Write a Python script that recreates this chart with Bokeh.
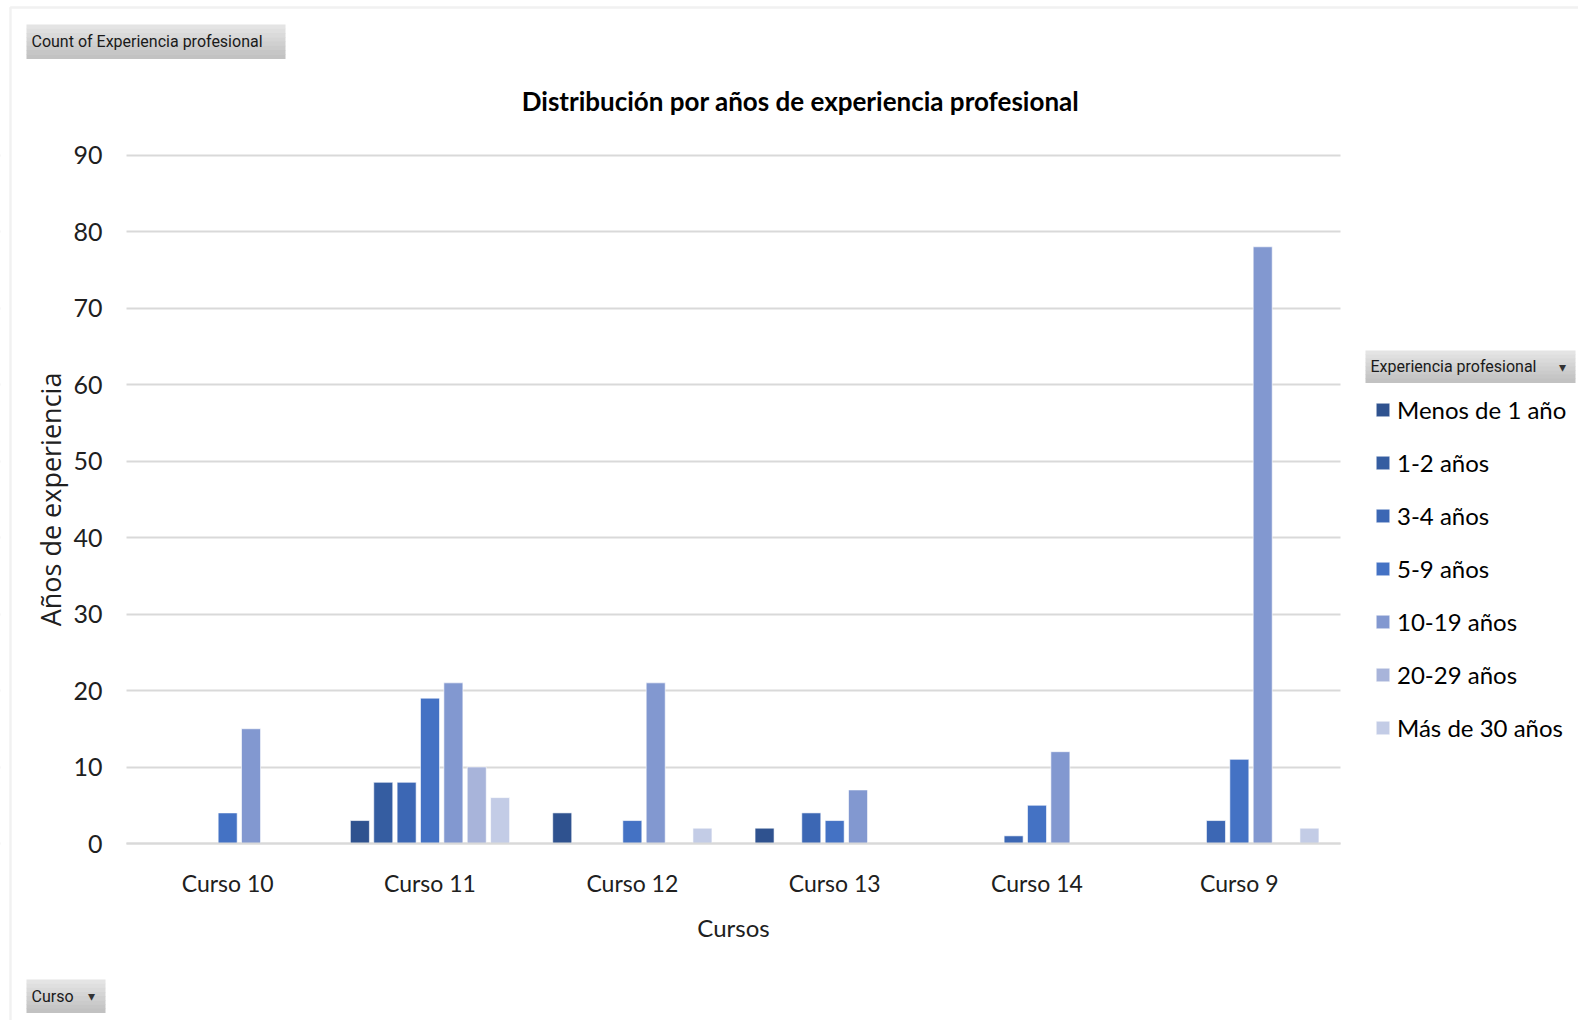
import numpy as np
from bokeh.plotting import figure
from bokeh.models import (ColumnDataSource, Range1d, Label, BoxAnnotation, Legend,
                          LegendItem, FixedTicker)
from bokeh.embed import file_html
from bokeh.resources import INLINE

# ---------------- data ----------------
cursos = ["Curso 10", "Curso 11", "Curso 12", "Curso 13", "Curso 14", "Curso 9"]
series = ["Menos de 1 año", "1-2 años", "3-4 años", "5-9 años", "10-19 años", "20-29 años", "Más de 30 años"]
menos_1 = [0, 3, 4, 2, 0, 0]
anos_1_2 = [0, 8, 0, 0, 0, 0]
anos_3_4 = [0, 8, 0, 4, 1, 3]
anos_5_9 = [4, 19, 3, 3, 5, 11]
anos_10_19 = [15, 21, 21, 7, 12, 78]
anos_20_29 = [0, 10, 0, 0, 0, 0]
mas_30 = [0, 6, 2, 0, 0, 2]
values = [menos_1, anos_1_2, anos_3_4, anos_5_9, anos_10_19, anos_20_29, mas_30]
colors = ["#2F528F", "#355DA1", "#3C67B4", "#4472C4", "#8298D0", "#A8B4DA", "#C3CCE6"]

y_ticks = list(range(0, 100, 10))
y_max = 90

# ---------------- layout (canvas pixels) ----------------
W, H = 1578, 1020
FL, FR, FT, FB = 126, 1340, 154.5, 843     # plotting area of the bars
FONT = "Lato"
BTN_FONT = "Roboto"
ncat = len(cursos)
xpx = (FR - FL) / ncat            # pixels per category
ypx = (FB - FT) / y_max           # pixels per unit

# the frame covers the whole canvas; axes are pinned with fixed_location
p = figure(x_range=Range1d(-FL / xpx, (W - FL) / xpx),
           y_range=Range1d(-(H - FB) / ypx, y_max + FT / ypx),
           width=W, height=H, output_backend="svg", toolbar_location=None, min_border=0)
p.outline_line_color = None
p.background_fill_color = "white"
p.border_fill_color = "white"

def sx(X):  # canvas x -> screen units
    return X

def sy(Y):  # canvas y (from top) -> screen units (from bottom)
    return H - Y

# gridlines
p.xgrid.grid_line_color = None
p.ygrid.grid_line_color = "#D9D9D9"
p.ygrid.grid_line_width = 2
# keep gridlines to the category area
p.add_layout(BoxAnnotation(right=0, fill_color="white", fill_alpha=1, line_color=None, level="underlay"))
p.add_layout(BoxAnnotation(left=ncat, fill_color="white", fill_alpha=1, line_color=None, level="underlay"))

centers = np.arange(ncat) + 0.5
slot = 0.1155
renderers = []
for i, (name, vals, col) in enumerate(zip(series, values, colors)):
    vals = np.array(vals)
    keep = vals > 0
    src = ColumnDataSource(dict(x=centers[keep] + (i - 3) * slot, count=vals[keep]))
    r = p.vbar(x="x", top="count", width=0.094, source=src,
               fill_color=col, line_color="#FFFFFF", line_width=1, line_alpha=0.6)
    renderers.append(r)

# y axis
p.yaxis.fixed_location = 0
p.yaxis.bounds = (0, y_max)
p.yaxis.ticker = y_ticks
p.yaxis.axis_line_color = None
p.yaxis.major_tick_line_color = None
p.yaxis.minor_tick_line_color = None
p.yaxis.major_label_standoff = 18
p.yaxis.major_label_text_font = FONT
p.yaxis.major_label_text_font_size = "25px"
p.yaxis.major_label_text_color = "#202020"
p.yaxis.axis_label = "Años de experiencia"
p.yaxis.axis_label_text_font = "Open Sans"
p.yaxis.axis_label_text_font_size = "27px"
p.yaxis.axis_label_text_font_style = "normal"
p.yaxis.axis_label_text_color = "#202020"
p.yaxis.axis_label_standoff = 1

# x axis
p.xaxis.fixed_location = 0
p.xaxis.bounds = (0, ncat)
p.xaxis.ticker = FixedTicker(ticks=list(centers))
p.xaxis.major_label_overrides = {float(c): n for c, n in zip(centers, cursos)}
p.xaxis.axis_line_color = "#D9D9D9"
p.xaxis.axis_line_width = 2
p.xaxis.major_tick_line_color = None
p.xaxis.minor_tick_line_color = None
p.xaxis.major_label_standoff = 19
p.xaxis.major_label_text_font = FONT
p.xaxis.major_label_text_font_size = "23px"
p.xaxis.major_label_text_color = "#202020"
p.xaxis.axis_label = "Cursos"
p.xaxis.axis_label_text_font = FONT
p.xaxis.axis_label_text_font_size = "24px"
p.xaxis.axis_label_text_font_style = "normal"
p.xaxis.axis_label_text_color = "#202020"
p.xaxis.axis_label_standoff = 13

# title
p.add_layout(Label(x=sx(800), y=sy(100), x_units="screen", y_units="screen",
                   text="Distribución por años de experiencia profesional",
                   text_font=FONT, text_font_style="bold", text_font_size="26px",
                   text_align="center", text_baseline="middle", text_color="#000000"))

# legend
items = [LegendItem(label=s, renderers=[r]) for s, r in zip(series, renderers)]
leg = Legend(items=items, location=(1374, 101 + (H - FB)), padding=0, margin=0,
             border_line_color=None, background_fill_alpha=0,
             glyph_width=17, glyph_height=17, label_height=30, spacing=23,
             label_standoff=6, label_text_font=FONT, label_text_font_size="24px",
             label_text_color="#000000")
p.add_layout(leg, "center")

# outer chart border
p.add_layout(BoxAnnotation(left=10, right=W + 20, top=sy(7), bottom=-20,
                           left_units="screen", right_units="screen",
                           top_units="screen", bottom_units="screen",
                           fill_alpha=0, line_color="#D0D0D0", line_width=2.5))

# gray pivot buttons (gradient boxes)
def button(x0, x1, y0, y1, text, arrow_x=None):
    n = 8
    h = (y1 - y0) / n
    for k in range(n):
        g = int(0xE4 - (0xE4 - 0xC2) * k / (n - 1))
        c = "#%02X%02X%02X" % (g, g, g)
        p.add_layout(BoxAnnotation(left=x0, right=x1, top=sy(y0 + k * h), bottom=sy(y0 + (k + 1) * h + 0.5),
                                   left_units="screen", right_units="screen",
                                   top_units="screen", bottom_units="screen",
                                   fill_color=c, fill_alpha=1, line_color=None))
    p.add_layout(Label(x=sx(x0 + 5), y=sy((y0 + y1) / 2), x_units="screen", y_units="screen",
                       text=text, text_font=BTN_FONT, text_font_size="16px",
                       text_baseline="middle", text_align="left", text_color="#1A1A1A"))
    if arrow_x is not None:
        p.add_layout(Label(x=sx(arrow_x), y=sy((y0 + y1) / 2), x_units="screen", y_units="screen",
                           text="▾", text_font="DejaVu Sans", text_font_size="14px",
                           text_baseline="middle", text_align="center", text_color="#333333"))

button(26, 285, 24, 58, "Count of Experiencia profesional")
button(1365, 1575, 350, 382, "Experiencia profesional", arrow_x=1562)
button(26, 105, 979, 1012, "Curso", arrow_x=91)

open("out.html", "w").write(file_html(p, INLINE))
